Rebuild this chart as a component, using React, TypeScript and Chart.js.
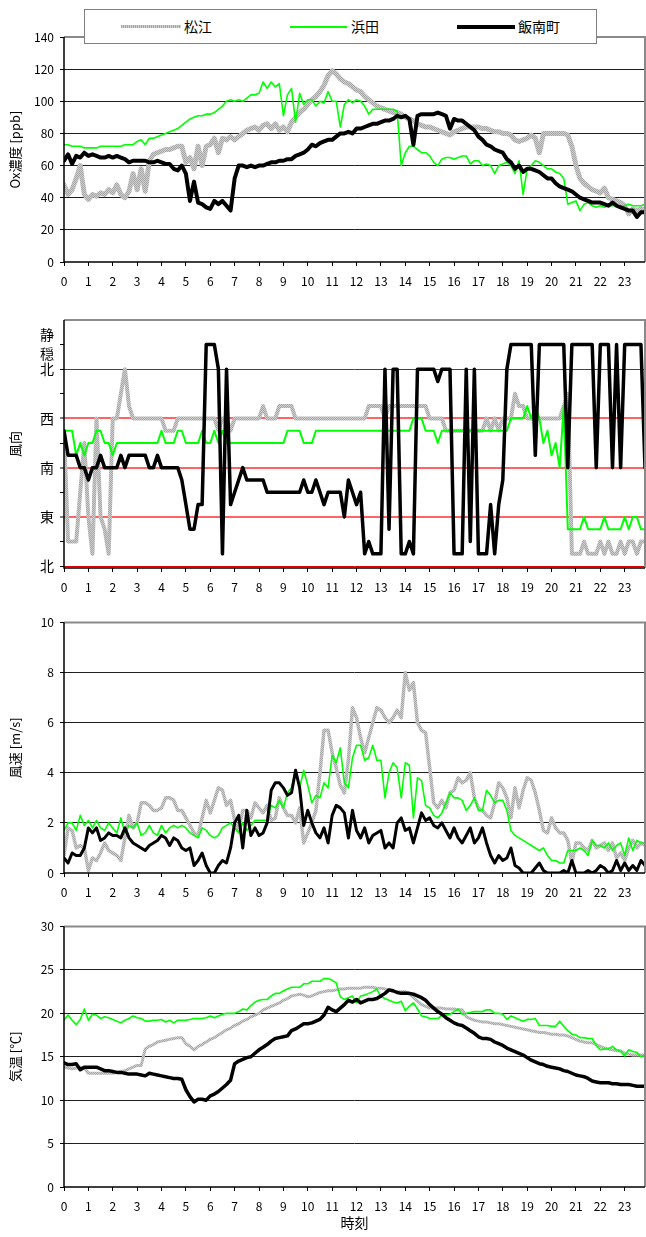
import React, { useEffect, useRef } from 'react';
import { Chart, registerables } from 'chart.js';

Chart.register(...registerables);

const FONT = '"Noto Sans CJK JP", "Noto Sans", sans-serif';
Chart.defaults.font.family = FONT;

// ---- axis categories ----
const HOURS = [0, 1, 2, 3, 4, 5, 6, 7, 8, 9, 10, 11, 12, 13, 14, 15, 16, 17, 18, 19, 20, 21, 22, 23];
const SAMPLES_PER_HOUR = 6; // 10-minute data, 0:00 .. 23:50
const X_MAX = 143 / 6;
const SERIES_NAMES = ['松江', '浜田', '飯南町'];

// ---- Ox concentration [ppb] (10-min) ----
const OX_MATSUE = [
  48, 42, 45, 52, 60, 42,
  39, 42, 41, 43, 42, 45,
  43, 48, 42, 40, 44, 55,
  45, 58, 44, 63, 67, 68,
  69, 70, 70, 71, 72, 72,
  62, 65, 58, 72, 60, 72,
  73, 77, 68, 77, 76, 78,
  76, 78, 80, 82, 83, 84,
  82, 85, 86, 83, 86, 82,
  84, 81, 87, 90, 93, 95,
  98, 101, 103, 106, 110, 116,
  119, 117, 114, 112, 111, 109,
  107, 106, 103, 101, 99, 97,
  96, 95, 94, 93, 93, 92,
  90, 89, 88, 86, 85, 84,
  84, 83, 82, 81, 80, 79,
  81, 82, 83, 84, 84, 84,
  84, 83, 83, 82, 81, 81,
  80, 80, 79, 76, 75, 76,
  77, 79, 77, 68, 80, 80,
  80, 80, 80, 80, 79, 72,
  60, 52, 49, 47, 45, 44,
  43, 46, 40, 39, 38, 37,
  35, 30, 33, 32, 33, 33,
];
const OX_HAMADA = [
  73, 73, 72, 72, 72, 71,
  71, 71, 71, 72, 72, 72,
  72, 72, 72, 73, 73, 73,
  75, 76, 73, 77, 77, 78,
  79, 80, 81, 82, 83, 85,
  87, 89, 90, 91, 91, 92,
  92, 93, 95, 97, 100, 101,
  100, 101, 100, 102, 104, 104,
  105, 112, 108, 112, 109, 111,
  91, 104, 108, 87, 105, 98,
  101, 101, 97, 100, 99, 106,
  100, 100, 84, 98, 101, 99,
  101, 100, 97, 92, 95, 95,
  95, 95, 95, 95, 94, 60,
  68, 72, 72, 70, 68, 68,
  66, 62, 60, 64, 65, 65,
  64, 65, 66, 66, 61, 63,
  63, 60, 61, 60, 55, 60,
  61, 62, 60, 55, 63, 42,
  58, 60, 63, 62, 60, 58,
  58, 56, 55, 52, 36, 37,
  38, 32, 36, 37, 35, 34,
  35, 34, 35, 35, 35, 34,
  35, 36, 35, 35, 35, 36,
];
const OX_IINAN = [
  63, 67, 61, 66, 65, 68,
  66, 67, 66, 65, 65, 66,
  65, 66, 65, 64, 62, 63,
  63, 63, 63, 62, 62, 63,
  62, 61, 61, 58, 57, 60,
  55, 38, 50, 37, 36, 34,
  33, 38, 36, 38, 35, 32,
  52, 60, 60, 59, 60, 59,
  60, 60, 61, 62, 62, 63,
  63, 64, 64, 66, 67, 68,
  70, 73, 72, 74, 75, 76,
  76, 78, 80, 80, 81, 80,
  83, 83, 84, 85, 86, 86,
  87, 88, 88, 89, 91, 90,
  91, 89, 73, 91, 92, 92,
  92, 92, 93, 92, 91, 83,
  89, 88, 88, 86, 84, 82,
  78, 76, 73, 72, 70, 69,
  68, 64, 62, 58, 60, 56,
  58, 58, 57, 56, 54, 52,
  52, 49, 47, 46, 45, 44,
  42, 40, 39, 38, 37, 37,
  37, 36, 35, 37, 35, 34,
  33, 32, 32, 28, 31, 31,
];

// ---- wind direction (0 = N, 4 = E, 8 = S, 12 = W, 16 = N, 18 = calm) ----
const WD_MATSUE = [
  11, 2, 2, 2, 6, 10,
  4, 1, 12, 4, 3, 1,
  12, 12, 14, 16, 13, 12,
  12, 12, 12, 12, 12, 12,
  12, 11, 11, 11, 12, 12,
  12, 12, 12, 12, 12, 12,
  12, 12, 11, 12, 12, 11,
  12, 12, 12, 12, 12, 12,
  12, 13, 12, 12, 12, 13,
  13, 13, 13, 12, 12, 12,
  12, 12, 12, 12, 12, 12,
  12, 12, 12, 12, 12, 12,
  12, 12, 12, 13, 13, 13,
  13, 12, 13, 13, 13, 13,
  13, 13, 13, 13, 13, 13,
  12, 12, 12, 12, 11, 11,
  11, 11, 11, 11, 11, 11,
  11, 11, 12, 11, 12, 11,
  12, 12, 12, 14, 13, 13,
  12, 12, 12, 12, 12, 12,
  12, 12, 12, 13, 14, 1,
  1, 1, 2, 1, 1, 1,
  2, 1, 2, 1, 1, 2,
  1, 2, 2, 1, 2, 2,
];
const WD_HAMADA = [
  11, 11, 11, 9, 10, 9,
  10, 10, 11, 11, 10, 10,
  9, 10, 10, 10, 10, 10,
  10, 10, 10, 10, 10, 10,
  11, 10, 10, 10, 11, 11,
  10, 10, 10, 10, 11, 10,
  10, 11, 10, 11, 10, 10,
  10, 10, 10, 10, 10, 10,
  10, 10, 10, 10, 10, 10,
  10, 11, 11, 11, 11, 10,
  10, 10, 11, 11, 11, 11,
  11, 11, 11, 11, 11, 11,
  11, 11, 11, 11, 11, 11,
  11, 11, 11, 11, 11, 11,
  11, 11, 12, 12, 12, 11,
  11, 11, 10, 11, 11, 11,
  11, 11, 11, 11, 11, 11,
  11, 11, 11, 11, 11, 11,
  11, 11, 12, 12, 12, 12,
  13, 12, 13, 12, 10, 11,
  9, 10, 8, 13, 3, 3,
  3, 3, 4, 3, 3, 3,
  3, 4, 3, 3, 3, 3,
  4, 3, 4, 4, 3, 3,
];
const WD_IINAN = [
  11, 9, 9, 9, 8, 8,
  7, 8, 8, 9, 8, 8,
  8, 8, 9, 8, 9, 9,
  9, 9, 9, 8, 8, 9,
  8, 8, 8, 8, 8, 7,
  5, 3, 3, 5, 5, 18,
  18, 18, 16, 1, 16, 5,
  6, 7, 8, 7, 7, 7,
  7, 7, 6, 6, 6, 6,
  6, 6, 6, 6, 6, 7,
  6, 6, 7, 6, 5, 6,
  6, 6, 6, 4, 7, 6,
  5, 6, 1, 2, 1, 1,
  1, 16, 3, 16, 16, 1,
  1, 2, 1, 16, 16, 16,
  16, 16, 15, 16, 16, 16,
  1, 1, 1, 16, 2, 16,
  1, 1, 1, 5, 1, 5,
  7, 16, 18, 18, 18, 18,
  18, 18, 9, 18, 18, 18,
  18, 18, 18, 18, 8, 18,
  18, 18, 18, 18, 18, 8,
  18, 18, 18, 8, 18, 8,
  18, 18, 18, 18, 18, 8,
];
const DIR_TICKS = [0, 2, 4, 6, 8, 10, 12, 14, 16, 18];
const DIR_LABELS: Record<number, string | string[]> = { 0: '北', 4: '東', 8: '南', 12: '西', 16: '北', 18: ['静', '穏'] };

// ---- wind speed [m/s] ----
const WS_MATSUE = [
  0.7, 1.8, 1.7, 1.0, 1.1, 1.0,
  0.1, 0.6, 0.5, 0.8, 1.2, 0.9,
  0.8, 0.7, 0.5, 1.4, 2.3, 1.8,
  2.0, 2.8, 2.8, 2.7, 2.5, 2.5,
  2.6, 3.0, 3.0, 2.9, 2.5, 2.5,
  2.2, 1.9, 1.6, 1.5, 2.2, 2.9,
  2.4, 2.9, 3.4, 3.3, 2.7, 2.9,
  2.1, 1.7, 2.5, 2.5, 2.2, 2.8,
  2.6, 2.4, 2.7, 2.1, 2.2, 3.0,
  2.6, 2.3, 2.3, 2.0, 2.6, 1.2,
  1.6, 2.0, 2.5, 4.0, 5.7, 5.7,
  4.8, 4.2, 3.5, 3.2, 4.5, 6.6,
  6.2, 5.4, 4.8, 5.4, 6.0, 6.6,
  6.5, 6.2, 6.0, 6.2, 6.5, 6.2,
  8.0, 7.3, 7.6, 6.0, 5.7, 5.6,
  4.2, 2.8, 2.6, 2.9, 2.6, 3.2,
  3.3, 3.8, 3.6, 3.7, 4.0, 3.0,
  2.6, 2.5, 2.3, 2.2, 2.8, 3.6,
  3.4, 3.0, 2.2, 3.4, 2.6, 3.3,
  3.8, 3.7, 3.2, 2.5, 1.7, 1.6,
  2.2, 1.8, 1.6, 1.6, 1.3, 0.4,
  1.2, 1.2, 1.0, 0.9, 1.3, 1.0,
  1.1, 1.2, 0.9, 1.2, 0.6, 0.8,
  0.5, 1.0, 1.3, 1.0, 1.2, 1.1,
];
const WS_HAMADA = [
  1.7, 2.0, 2.0, 1.7, 2.3, 1.9,
  2.1, 1.8, 2.1, 1.8, 1.7, 2.0,
  1.8, 1.6, 2.2, 1.6, 1.9, 1.8,
  2.0, 1.5, 1.6, 1.9, 1.6, 1.5,
  1.9, 1.6, 1.8, 1.9, 1.8, 1.9,
  1.8, 1.6, 1.5, 1.4, 1.8, 1.7,
  1.5, 1.4, 1.5, 1.8, 1.9, 2.0,
  1.8, 1.6, 2.0, 1.7, 1.9, 2.1,
  2.1, 2.1, 2.1, 2.7, 2.6, 2.9,
  2.6, 3.2, 3.4, 4.1, 3.4, 4.1,
  3.5, 2.8, 3.1, 3.0, 3.6, 3.4,
  4.7, 4.4, 5.0, 3.6, 3.4, 4.6,
  5.1, 5.1, 4.5, 4.6, 5.1, 4.5,
  4.5, 3.0, 4.0, 4.4, 4.2, 3.0,
  4.4, 4.3, 2.2, 3.8, 3.7, 2.7,
  2.6, 2.3, 2.2, 2.4, 2.8, 3.2,
  3.0, 3.0, 2.9, 2.5, 2.7, 3.0,
  2.5, 2.5, 3.3, 3.1, 2.8, 2.9,
  2.9, 2.5, 1.7, 1.5, 1.4, 1.3,
  1.2, 1.1, 1.0, 0.9, 1.0, 0.7,
  0.5, 0.5, 0.4, 0.4, 0.9, 0.9,
  0.9, 1.0, 0.9, 0.7, 1.3, 1.1,
  1.1, 1.0, 1.2, 0.9, 1.1, 1.2,
  0.7, 1.4, 0.9, 1.3, 1.2, 1.2,
];
const WS_IINAN = [
  0.6, 0.4, 0.8, 0.7, 0.7, 1.0,
  1.8, 1.6, 1.8, 1.3, 1.4, 1.6,
  1.5, 1.5, 1.4, 1.8, 1.4, 1.2,
  1.1, 1.0, 0.9, 1.1, 1.2, 1.3,
  1.5, 1.4, 1.1, 1.4, 1.3, 1.0,
  0.9, 1.0, 0.3, 0.5, 0.8, 0.3,
  0.0, 0.0, 0.3, 0.5, 0.4, 1.0,
  2.0, 2.3, 1.0, 2.5, 1.5, 1.8,
  1.5, 1.6, 2.0, 3.3, 3.6, 3.6,
  3.4, 3.1, 3.2, 4.1, 3.4, 1.9,
  2.5, 2.0, 1.6, 1.4, 1.8, 1.2,
  2.3, 2.7, 2.6, 2.4, 1.4, 2.5,
  1.7, 1.4, 1.8, 1.2, 1.5, 1.6,
  1.7, 1.0, 1.2, 1.0, 2.0, 2.2,
  1.7, 1.8, 1.2, 1.8, 2.4, 2.1,
  2.2, 1.9, 1.8, 2.0, 1.7, 1.4,
  1.8, 1.4, 1.2, 1.5, 1.8, 1.2,
  1.4, 1.8, 1.2, 0.7, 0.4, 0.7,
  0.5, 0.6, 1.0, 0.3, 0.2, 0.0,
  0.0, 0.0, 0.2, 0.4, 0.1, 0.0,
  0.0, 0.0, 0.0, 0.1, 0.0, 0.5,
  0.0, 0.0, 0.0, 0.1, 0.0, 0.1,
  0.3, 0.2, 0.0, 0.1, 0.5, 0.1,
  0.4, 0.1, 0.3, 0.1, 0.5, 0.3,
];

// ---- air temperature [℃] ----
const TEMP_MATSUE = [
  13.8, 13.7, 13.6, 13.7, 13.8, 13.7,
  13.1, 13.1, 13.1, 13.1, 13.1, 13.1,
  13.1, 13.2, 13.3, 13.4, 13.6, 13.8,
  14.0, 14.0, 15.9, 16.2, 16.4, 16.7,
  16.8, 16.9, 17.0, 17.1, 17.2, 17.2,
  16.5, 16.2, 15.8, 16.2, 16.4, 16.7,
  17.0, 17.2, 17.5, 17.8, 18.1, 18.3,
  18.6, 18.8, 19.1, 19.3, 19.6, 19.8,
  20.0, 20.4, 20.6, 20.8, 21.0, 21.2,
  21.5, 21.7, 22.0, 22.1, 22.2, 22.1,
  21.9, 22.0, 22.2, 22.4, 22.5, 22.6,
  22.6, 22.7, 22.8, 22.8, 22.9, 22.9,
  22.9, 22.9, 23.0, 23.0, 23.0, 22.9,
  22.9, 22.8, 22.7, 22.5, 22.5, 22.5,
  22.5, 22.2, 21.8, 21.4, 21.0, 20.8,
  20.6, 20.6, 20.6, 20.6, 20.5, 20.5,
  20.5, 20.4, 20.4, 19.6, 19.4, 19.2,
  19.1, 19.0, 19.0, 18.9, 18.8, 18.8,
  18.7, 18.6, 18.5, 18.4, 18.3, 18.2,
  18.1, 18.0, 17.9, 17.8, 17.8, 17.7,
  17.6, 17.6, 17.5, 17.5, 17.4, 17.2,
  17.0, 16.8, 16.7, 16.6, 16.6, 16.4,
  16.2, 16.0, 15.9, 15.8, 15.7, 15.7,
  15.4, 15.3, 15.2, 15.2, 15.2, 15.2,
];
const TEMP_HAMADA = [
  19.2, 19.8, 19.2, 18.7, 19.3, 20.5,
  19.2, 19.9, 19.8, 19.4, 19.6, 19.5,
  19.3, 19.1, 18.9, 19.2, 19.4, 19.7,
  19.5, 19.4, 19.1, 19.1, 19.2, 19.2,
  19.3, 19.0, 19.2, 18.9, 19.2, 19.2,
  19.2, 19.3, 19.4, 19.4, 19.4, 19.5,
  19.7, 19.5, 19.7, 19.9, 20.0, 20.0,
  20.0, 20.2, 20.5, 20.4, 20.9, 21.3,
  21.5, 21.6, 21.6, 22.0, 22.3, 22.3,
  22.6, 22.8, 23.0, 23.0, 23.0, 23.4,
  23.4, 23.7, 23.7, 23.7, 24.0, 24.0,
  23.8, 23.5, 21.9, 21.6, 21.8, 22.0,
  21.2, 22.0, 22.1, 22.3, 22.5, 22.8,
  21.9, 21.7, 21.5, 21.3, 21.2, 21.4,
  20.3, 20.8, 21.2, 20.5, 19.7, 19.6,
  19.4, 19.4, 19.4, 19.8, 19.8, 19.9,
  20.2, 20.5, 19.9, 20.0, 20.1, 20.2,
  20.2, 20.2, 20.4, 20.4, 20.0, 20.0,
  19.9, 19.3, 19.7, 19.5, 19.3, 19.1,
  19.3, 19.3, 19.4, 18.6, 18.6, 18.6,
  18.5, 18.5, 19.1, 18.5, 18.0, 17.6,
  17.5, 17.2, 17.2, 17.1, 17.1, 16.3,
  15.8, 15.9, 15.9, 16.2, 15.8, 15.6,
  15.1, 15.8, 15.6, 15.5, 15.0, 15.2,
];
const TEMP_IINAN = [
  14.3, 14.1, 14.1, 14.2, 13.5, 13.8,
  13.8, 13.8, 13.8, 13.6, 13.4, 13.4,
  13.3, 13.2, 13.2, 13.1, 13.0, 13.0,
  13.0, 12.9, 12.8, 13.1, 13.0, 12.9,
  12.8, 12.7, 12.6, 12.5, 12.5, 12.4,
  11.2, 10.4, 9.8, 10.1, 10.1, 10.0,
  10.5, 10.7, 11.0, 11.4, 11.8, 12.3,
  14.2, 14.5, 14.7, 14.9, 15.0, 15.4,
  15.8, 16.1, 16.4, 16.8, 17.1, 17.2,
  17.3, 17.4, 18.0, 18.2, 18.5, 18.8,
  18.8, 18.9, 19.1, 19.3, 19.8, 20.7,
  20.4, 20.2, 20.6, 21.0, 21.5, 21.3,
  21.6, 21.2, 21.4, 21.6, 21.6, 21.7,
  22.0, 22.3, 22.7, 22.6, 22.4, 22.3,
  22.3, 22.3, 22.2, 22.0, 21.8, 21.5,
  21.0, 20.6, 20.2, 19.9, 19.5, 19.2,
  18.9, 18.7, 18.6, 18.3, 18.0, 17.7,
  17.3, 17.1, 17.1, 17.0, 16.7, 16.5,
  16.3, 16.0, 15.8, 15.6, 15.4, 15.2,
  14.9, 14.6, 14.4, 14.2, 14.1, 13.9,
  13.8, 13.7, 13.6, 13.4, 13.3, 13.1,
  12.9, 12.8, 12.7, 12.5, 12.2, 12.1,
  12.0, 12.0, 12.0, 11.9, 11.9, 11.8,
  11.8, 11.8, 11.7, 11.6, 11.6, 11.6,
];

type PanelSpec = {
  top: number;
  height: number;
  padTop: number;
  xHeight: number;
  yMin: number;
  yMax: number;
  yStep?: number;
  dir?: boolean;
  yTitle: string;
  xTitle?: string;
  series: number[][];
  widths: number[];
};

const PANELS: PanelSpec[] = [
  { top: 0, height: 295, padTop: 37, xHeight: 33, yMin: 0, yMax: 140, yStep: 20, yTitle: 'Ox濃度 [ppb]', series: [OX_MATSUE, OX_HAMADA, OX_IINAN], widths: [5, 1.6, 4] },
  { top: 295, height: 305, padTop: 23, xHeight: 32, yMin: -0.15, yMax: 20, dir: true, yTitle: '風向', series: [WD_MATSUE, WD_HAMADA, WD_IINAN], widths: [4, 2, 3.5] },
  { top: 600, height: 305, padTop: 22.5, xHeight: 32, yMin: 0, yMax: 10, yStep: 2, yTitle: '風速 [m/s]', series: [WS_MATSUE, WS_HAMADA, WS_IINAN], widths: [3.5, 1.6, 3] },
  { top: 905, height: 332, padTop: 21.5, xHeight: 50, yMin: 0, yMax: 30, yStep: 5, yTitle: '気温 [℃]', xTitle: '時刻', series: [TEMP_MATSUE, TEMP_HAMADA, TEMP_IINAN], widths: [3, 1.6, 3.5] },
];

const GREEN = '#00ff00';

function makePattern(ctx: CanvasRenderingContext2D) {
  const c = document.createElement('canvas');
  c.width = 2;
  c.height = 2;
  const g = c.getContext('2d')!;
  g.fillStyle = '#cfcfcf';
  g.fillRect(0, 0, 2, 2);
  g.fillStyle = '#a6a6a6';
  g.fillRect(0, 0, 1, 1);
  g.fillRect(1, 1, 1, 1);
  return ctx.createPattern(c, 'repeat')!;
}

const borderPlugin = {
  id: 'plotBorder',
  afterDatasetsDraw(chart: any) {
    const { ctx, chartArea: a } = chart;
    ctx.save();
    ctx.lineWidth = 2;
    ctx.strokeStyle = '#8a8a8a';
    ctx.beginPath();
    ctx.moveTo(a.left, a.top);
    ctx.lineTo(a.right, a.top);
    ctx.lineTo(a.right, a.bottom);
    ctx.stroke();
    ctx.lineWidth = 1.5;
    ctx.strokeStyle = '#000';
    ctx.beginPath();
    ctx.moveTo(a.left, a.top);
    ctx.lineTo(a.left, a.bottom);
    ctx.lineTo(a.right, a.bottom);
    ctx.stroke();
    ctx.restore();
  },
};

function toPoints(values: number[]) {
  return values.map((v, i) => ({ x: i / SAMPLES_PER_HOUR, y: v }));
}

function Panel({ spec }: { spec: PanelSpec }) {
  const ref = useRef<HTMLCanvasElement>(null);
  useEffect(() => {
    const canvas = ref.current!;
    const ctx = canvas.getContext('2d')!;
    const pattern = makePattern(ctx);
    const colors: any[] = [pattern, GREEN, '#000'];
    const datasets = spec.series.map((s, i) => ({
      label: SERIES_NAMES[i],
      data: toPoints(s),
      borderColor: colors[i],
      backgroundColor: colors[i],
      borderWidth: spec.widths[i],
      pointRadius: 0,
      tension: 0,
      fill: false,
      borderJoinStyle: 'round' as const,
      borderCapStyle: 'round' as const,
      order: 3 - i,
    }));

    const gridColor = (c: any) => {
      const v = c.tick ? c.tick.value : null;
      if (spec.dir) {
        if (v === 16 || v === 0) return '#e00000';
        if (v === 4 || v === 8 || v === 12) return '#ff6464';
        return 'rgba(0,0,0,0)';
      }
      if (v === spec.yMin || v === spec.yMax) return 'rgba(0,0,0,0)';
      return '#1e1e1e';
    };
    const gridWidth = (c: any) => {
      const v = c.tick ? c.tick.value : null;
      if (spec.dir && (v === 4 || v === 8 || v === 12)) return 2;
      return 1;
    };

    const chart = new Chart(canvas, {
      type: 'line',
      data: { datasets },
      plugins: [borderPlugin],
      options: {
        animation: false,
        responsive: false,
        maintainAspectRatio: false,
        devicePixelRatio: 1,
        events: [],
        layout: { padding: { top: spec.padTop, right: 1, left: 0, bottom: 0 } },
        plugins: { legend: { display: false }, tooltip: { enabled: false } },
        scales: {
          x: {
            type: 'linear',
            min: 0,
            max: X_MAX,
            afterBuildTicks: (s: any) => {
              s.ticks = HOURS.map((v) => ({ value: v }));
            },
            afterFit: (s: any) => {
              s.height = spec.xHeight;
            },
            grid: { drawOnChartArea: false, drawTicks: true, tickLength: 4, tickColor: '#000', tickWidth: 1 },
            border: { display: false },
            ticks: {
              autoSkip: false,
              maxRotation: 0,
              padding: 8,
              color: '#000',
              font: { size: 12 },
              callback: (v: any) => String(v),
            },
            title: spec.xTitle
              ? { display: true, text: spec.xTitle, color: '#000', font: { size: 14 }, padding: { top: 0, bottom: 6 } }
              : { display: false },
          },
          y: {
            type: 'linear',
            min: spec.yMin,
            max: spec.yMax,
            afterBuildTicks: spec.dir
              ? (s: any) => {
                  s.ticks = DIR_TICKS.map((v) => ({ value: v }));
                }
              : undefined,
            afterFit: (s: any) => {
              s.width = 64;
            },
            grid: { color: gridColor, lineWidth: gridWidth, drawTicks: true, tickLength: 4, tickColor: '#000', tickWidth: 1 },
            border: { display: false },
            ticks: {
              stepSize: spec.yStep,
              autoSkip: false,
              padding: 6,
              color: '#000',
              font: spec.dir ? { size: 14, lineHeight: 1.35 } : { size: 12 },
              callback: spec.dir ? (v: any) => DIR_LABELS[v as number] ?? '' : (v: any) => String(v),
            },
            title: { display: true, text: spec.yTitle, color: '#000', font: { size: 13 }, padding: { top: 7, bottom: 0 } },
          },
        },
      } as any,
    });
    return () => chart.destroy();
  }, [spec]);
  return (
    <canvas
      ref={ref}
      width={646}
      height={spec.height}
      style={{ position: 'absolute', left: 0, top: spec.top, width: 646, height: spec.height }}
    />
  );
}

function Legend() {
  const item = (left: number, text: string) => (
    <span style={{ position: 'absolute', left, top: 6, lineHeight: '20px', whiteSpace: 'nowrap' }}>{text}</span>
  );
  return (
    <div
      style={{
        position: 'absolute',
        left: 84,
        top: 9,
        width: 511,
        height: 33,
        border: '1px solid #808080',
        background: '#fff',
        fontFamily: FONT,
        fontSize: 14,
        color: '#000',
      }}
    >
      <div
        style={{
          position: 'absolute',
          left: 36,
          top: 15,
          width: 60,
          height: 3,
          background: 'repeating-linear-gradient(90deg, #a6a6a6 0 1px, #cfcfcf 1px 2px)',
        }}
      />
      {item(99, SERIES_NAMES[0])}
      <div style={{ position: 'absolute', left: 205, top: 15.5, width: 57, height: 2, background: GREEN }} />
      {item(266, SERIES_NAMES[1])}
      <div style={{ position: 'absolute', left: 372, top: 14.5, width: 58, height: 4, background: '#000' }} />
      {item(433, SERIES_NAMES[2])}
    </div>
  );
}

export default function App() {
  return (
    <div style={{ position: 'absolute', left: 0, top: 0, width: 646, height: 1237, background: '#fff', overflow: 'hidden' }}>
      {PANELS.map((p, i) => (
        <Panel key={i} spec={p} />
      ))}
      <Legend />
    </div>
  );
}
